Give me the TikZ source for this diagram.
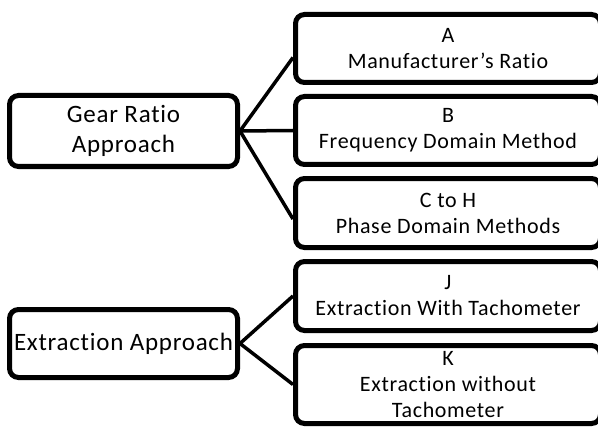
\documentclass[tikz,border=0pt]{standalone}
\usepackage{fontspec}
\setmainfont{Carlito}[LetterSpace=3, Ligatures={NoCommon}]

\begin{document}
\begin{tikzpicture}[x=1pt, y=-1pt,
    box/.style={draw, line width=5pt, rounded corners=9pt, inner sep=0pt,
        align=center, fill=white},
    approach/.style={box, minimum width=228pt, font=\fontsize{25}{30}\selectfont},
    method/.style={box, minimum width=305pt, font=\fontsize{22}{26}\selectfont},
    link/.style={line width=3.5pt}]
    \useasboundingbox (0,0) rectangle (598,428);

    % Gear ratio approach
    \node[approach, minimum height=71pt] (gear) at (123.5,131) {Gear Ratio\\Approach};
    \node[method, minimum height=68pt] (mA) at (448,48.5) {A\\Manufacturer's Ratio};
    \node[method, minimum height=68pt] (mB) at (448,130.5) {B\\Frequency Domain Method};
    \node[method, minimum height=69pt] (mC) at (448,213) {C to H\\Phase Domain Methods};

    % Extraction approach
    \node[approach, minimum height=68pt] (extr) at (123.5,343.5) {Extraction Approach};
    \node[method, minimum height=69pt] (mJ) at (448,296) {J\\Extraction With Tachometer};
    \node[method, minimum height=78pt] (mK) at (448,384.5) {K\\Extraction without\\Tachometer};

    % Branches
    \draw[link] ([yshift=-9pt]mA.west) -- (gear.east) -- (mB.west);
    \draw[link] (gear.east) -- ([yshift=-6pt]mC.west);
    \draw[link] (mJ.west) -- (extr.east) -- (mK.west);
\end{tikzpicture}
\end{document}
